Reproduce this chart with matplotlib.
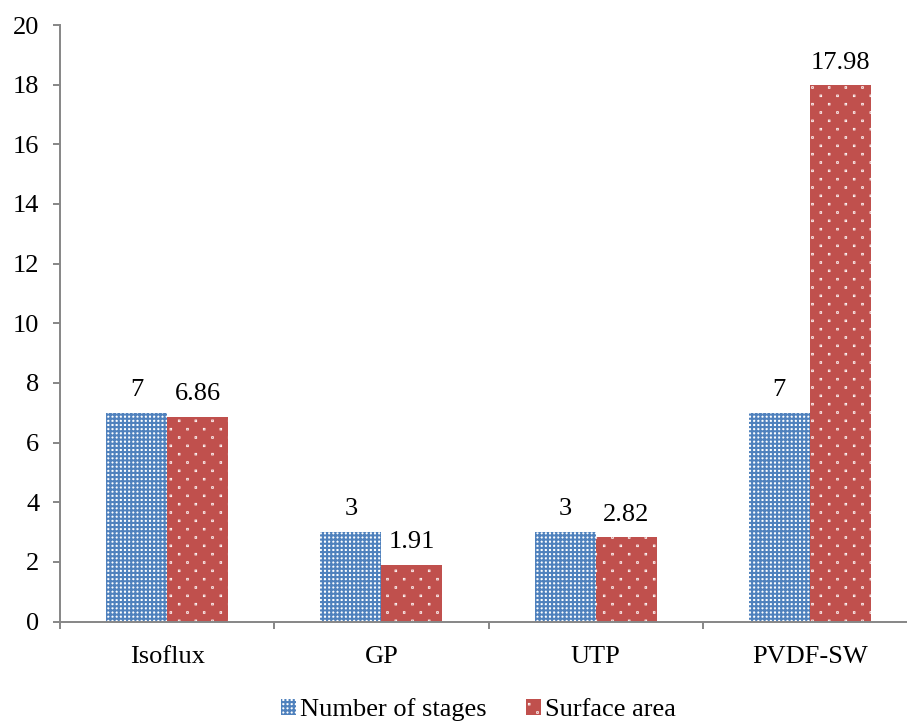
import numpy as np
import matplotlib
matplotlib.use("Agg")
import matplotlib.pyplot as plt
from matplotlib import hatch as mhatch
from matplotlib.path import Path

categories = ["Isoflux", "GP", "UTP", "PVDF-SW"]
stages = [7, 3, 3, 7]
surface_area = [6.86, 1.91, 2.82, 17.98]
series_names = ["Number of stages", "Surface area"]
yticks = list(range(0, 21, 2))

BLUE = "#4F81BD"
RED = "#C0504D"
GREY = "#868686"


class StaggeredSquareDots(mhatch.HatchPatternBase):
    """'.' hatch drawn as small square dots; rows are twice as dense as
    columns and every other row is shifted by half a column."""

    def __init__(self, hatch, density):
        n = hatch.count(".")
        self.cols = n * density
        self.rows = 2 * self.cols
        self.num_vertices = self.rows * self.cols * 5

    def set_vertices_and_codes(self, vertices, codes):
        h = 0.002
        square = np.array([[-h, -h], [h, -h], [h, h], [-h, h], [-h, -h]])
        sq_codes = [Path.MOVETO, Path.LINETO, Path.LINETO, Path.LINETO,
                    Path.CLOSEPOLY]
        verts = []
        for r in range(self.rows):
            y = (r + 0.5) / self.rows
            shift = 0.75 if r % 2 else 0.25
            for c in range(self.cols):
                verts.append(square + [(c + shift) / self.cols, y])
        vertices[:] = np.concatenate(verts)
        codes[:] = np.tile(sq_codes, self.rows * self.cols)


mhatch._hatch_types = [StaggeredSquareDots if t is mhatch.SmallFilledCircles
                       else t for t in mhatch._hatch_types]

plt.rcParams["font.family"] = ["Liberation Serif", "DejaVu Serif"]
plt.rcParams["hatch.linewidth"] = 1.5
FS = 19

fig = plt.figure(figsize=(9.07, 7.22), dpi=100)
ax = fig.add_axes([60 / 907, 100.5 / 722, 857 / 907, 596.5 / 722])

x = np.arange(len(categories))
w = 0.285

b1 = ax.bar(x - w / 2, stages, w, facecolor="white", edgecolor=BLUE,
            linewidth=0, hatch="++++", label=series_names[0])
b2 = ax.bar(x + w / 2, surface_area, w, facecolor=RED, edgecolor="white",
            linewidth=0, hatch=".", label=series_names[1])

for bars, vals in ((b1, stages), (b2, surface_area)):
    for rect, v in zip(bars, vals):
        ax.annotate(f"{v:g}", (rect.get_x() + rect.get_width() / 2, v),
                    xytext=(0, 12), textcoords="offset points",
                    ha="center", va="baseline", fontsize=FS)

ax.set_xlim(-0.5, 3.5)
ax.set_ylim(0, 20)
ax.set_yticks(yticks)

ax.set_xticks(x)
ax.set_xticklabels(categories)
ax.set_xticks(np.arange(-0.5, len(categories), 1.0), minor=True)

for s in ("top", "right"):
    ax.spines[s].set_visible(False)
for s in ("left", "bottom"):
    ax.spines[s].set_color(GREY)
    ax.spines[s].set_linewidth(1.4)

ax.tick_params(axis="y", direction="out", length=5, width=1.4, color=GREY,
               labelsize=FS, pad=10)
ax.tick_params(axis="x", which="major", length=0, labelsize=FS, pad=17.5)
ax.tick_params(axis="x", which="minor", direction="out", length=5, width=1.4,
               color=GREY)

fig.legend(handles=[b1, b2], labels=series_names, loc="center",
           bbox_to_anchor=(478.5 / 907, 1 - 710 / 722), ncol=2,
           frameon=False, fontsize=FS, handlelength=0.57, handleheight=0.57,
           handletextpad=0.15, columnspacing=1.5, borderaxespad=0,
           borderpad=0)

fig.savefig("out.png", dpi=100)
